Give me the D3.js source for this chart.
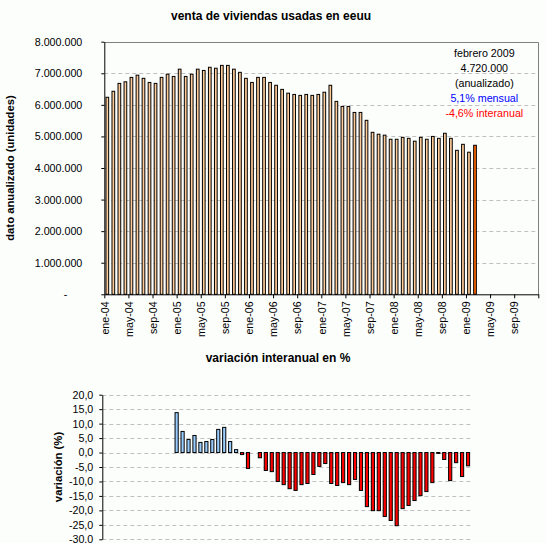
<!DOCTYPE html>
<html>
<head>
<meta charset="utf-8">
<script src="https://cdn.jsdelivr.net/npm/d3@7"></script>
<style>
body { margin: 0; background: #fcfefc; }
svg { display: block; font-family: Arial, "Liberation Sans", sans-serif; }
</style>
</head>
<body>
<svg id="chart" width="546" height="543"></svg>
<script>
// ventas anualizadas (miles de unidades), ene-04 .. feb-09
var ventas = [
    6240, 6430, 6680, 6730, 6870, 6940, 6840, 6710, 6680, 6870, 6970, 6900,
    7130, 6900, 6970, 7130, 7090, 7190, 7160, 7250, 7250, 7130, 7030, 6840,
    6710, 6870, 6870, 6710, 6620, 6490, 6370, 6330, 6300, 6330, 6300, 6330,
    6400, 6620, 6110, 5950, 5950, 5760, 5760, 5510, 5130, 5070, 5040, 4910,
    4910, 4970, 4940, 4850, 4970, 4910, 5000, 4940, 5100, 4940, 4560, 4750,
    4500, 4720
];

// variacion interanual en %, empieza en ene-05
var variacion = [
    null, null, null, null, null, null, null, null, null, null, null, null,
    13.8, 7.3, 4.5, 5.9, 3.5, 3.8, 4.5, 8.0, 8.7, 3.8, 1.0, -0.7,
    -5.5, 0.0, -1.8, -6.2, -6.6, -10.0, -11.1, -12.5, -13.1, -11.1, -10.7, -7.6,
    -4.8, -3.8, -10.7, -11.4, -10.4, -11.1, -9.3, -13.1, -18.7, -20.1, -20.1, -22.1,
    -23.5, -25.3, -19.4, -18.3, -16.6, -14.9, -13.5, -10.4, -0.3, -2.4, -9.7, -3.5,
    -8.3, -4.6
];

var meses = ["ene", "feb", "mar", "abr", "may", "jun", "jul", "ago", "sep", "oct", "nov", "dic"];
var anios = ["04", "05", "06", "07", "08", "09"];

var etiquetasX = ["ene-04", "may-04", "sep-04", "ene-05", "may-05", "sep-05", "ene-06", "may-06", "sep-06",
    "ene-07", "may-07", "sep-07", "ene-08", "may-08", "sep-08", "ene-09", "may-09", "sep-09"];

var ticksVentas = [0, 1000, 2000, 3000, 4000, 5000, 6000, 7000, 8000];
var ticksVariacion = [20, 15, 10, 5, 0, -5, -10, -15, -20, -25, -30];

var nota = ["febrero 2009", "4.720.000", "(anualizado)", "5,1% mensual", "-4,6% interanual"];
var notaColor = ["#000000", "#000000", "#000000", "#0000ff", "#ff0000"];

// categorias mensuales
var categorias = [];
anios.forEach(function (a) {
    meses.forEach(function (m) { categorias.push(m + "-" + a); });
});
categorias = categorias.slice(0, ventas.length);

var svg = d3.select("#chart");
var fuente = "10.7px";
var fuenteTitulo = "12px";
var fuenteEje = "11.3px";

// ---------- grafico de arriba ----------
var x1 = d3.scaleLinear().domain([0, 72]).range([104.3, 538.3]);
var y1 = d3.scaleLinear().domain([0, 8000]).range([294.3, 41.7]);

svg.append("text")
    .attr("x", 271)
    .attr("y", 19.5)
    .attr("text-anchor", "middle")
    .attr("font-size", fuenteTitulo)
    .attr("font-weight", "bold")
    .text("venta de viviendas usadas en eeuu");

// lineas de division
svg.append("g")
    .selectAll("line")
    .data(ticksVentas.filter(function (d) { return d > 0 && d < 8000; }))
    .enter().append("line")
    .attr("x1", x1(0)).attr("x2", x1(72))
    .attr("y1", function (d) { return Math.round(y1(d)) + 0.5; })
    .attr("y2", function (d) { return Math.round(y1(d)) + 0.5; })
    .attr("stroke", "#c0c0c0")
    .attr("stroke-dasharray", "4,3");

// marco gris arriba y derecha
svg.append("path")
    .attr("d", "M" + x1(0) + "," + (Math.round(y1(8000)) + 0.5) + "H" + (Math.round(x1(72)) + 0.5) + "V" + y1(0))
    .attr("fill", "none")
    .attr("stroke", "#808080");

svg.append("g")
    .selectAll("rect")
    .data(ventas)
    .enter().append("rect")
    .attr("x", function (d, i) { return x1(i + 0.5) - 1.35; })
    .attr("width", 2.7)
    .attr("y", function (d) { return y1(d); })
    .attr("height", function (d) { return y1(0) - y1(d); })
    .attr("fill", function (d, i) { return i === ventas.length - 1 ? "#ff6600" : "#ffcc99"; })
    .attr("stroke", "#000")
    .attr("stroke-width", 1);

var ejeY1 = svg.append("g")
    .attr("transform", "translate(" + x1(0) + ",0)")
    .call(d3.axisLeft(y1)
        .tickValues(ticksVentas)
        .tickSize(3)
        .tickSizeOuter(0)
        .tickPadding(19)
        .tickFormat(function (d) {
            return d === 0 ? "-" : d3.format(",")(d * 1000).replace(/,/g, ".");
        }));
ejeY1.selectAll("text").attr("font-size", fuente).attr("font-family", null).attr("fill", "#000");
ejeY1.selectAll(".tick").filter(function (d) { return d === 0; })
    .select("text").attr("x", -37);

var ejeX1 = svg.append("g")
    .attr("transform", "translate(0," + y1(0) + ")")
    .call(d3.axisBottom(x1)
        .tickValues(d3.range(0, 73, 4))
        .tickSize(4)
        .tickSizeOuter(0)
        .tickFormat(function (d, i) { return etiquetasX[i] || ""; }));
ejeX1.selectAll("text")
    .attr("font-size", fuente)
    .attr("font-family", null)
    .attr("fill", "#000")
    .attr("transform", "rotate(-90)")
    .attr("text-anchor", "end")
    .attr("x", -7)
    .attr("y", 0)
    .attr("dy", "0.35em");

svg.append("text")
    .attr("transform", "translate(14,168) rotate(-90)")
    .attr("text-anchor", "middle")
    .attr("font-size", fuenteEje)
    .attr("font-weight", "bold")
    .text("dato anualizado (unidades)");

svg.append("g")
    .selectAll("text")
    .data(nota)
    .enter().append("text")
    .attr("x", 484.3)
    .attr("y", function (d, i) { return 57.3 + i * 15; })
    .attr("text-anchor", "middle")
    .attr("font-size", fuente)
    .attr("fill", function (d, i) { return notaColor[i]; })
    .text(function (d) { return d; });

// ---------- grafico de abajo ----------
var x2 = d3.scaleBand().domain(categorias).range([102.3, 471]).paddingInner(0.3).paddingOuter(0.15);
var y2 = d3.scaleLinear().domain([-30, 20]).range([539.3, 394.7]);

svg.append("text")
    .attr("x", 278)
    .attr("y", 362)
    .attr("text-anchor", "middle")
    .attr("font-size", fuenteTitulo)
    .attr("font-weight", "bold")
    .text("variación interanual en %");

svg.append("g")
    .selectAll("line")
    .data(ticksVariacion)
    .enter().append("line")
    .attr("x1", 102.3).attr("x2", 471)
    .attr("y1", function (d) { return Math.round(y2(d)) + 0.5; })
    .attr("y2", function (d) { return Math.round(y2(d)) + 0.5; })
    .attr("stroke", "#c0c0c0")
    .attr("stroke-dasharray", "4,3");

svg.append("g")
    .selectAll("rect")
    .data(variacion.map(function (v, i) { return { c: categorias[i], v: v }; })
        .filter(function (d) { return d.v !== null && d.v !== 0; }))
    .enter().append("rect")
    .attr("x", function (d) { return x2(d.c) + 0.5; })
    .attr("width", x2.bandwidth() - 1)
    .attr("y", function (d) { return y2(Math.max(0, d.v)); })
    .attr("height", function (d) { return Math.abs(y2(d.v) - y2(0)); })
    .attr("fill", function (d) { return d.v > 0 ? "#99ccff" : "#ff0000"; })
    .attr("stroke", "#000")
    .attr("stroke-width", 1);

var ejeY2 = svg.append("g")
    .attr("transform", "translate(102.3,0)")
    .call(d3.axisLeft(y2)
        .tickValues(ticksVariacion)
        .tickSize(3)
        .tickSizeOuter(0)
        .tickPadding(6)
        .tickFormat(function (d) { return d3.format(".1f")(d).replace(".", ",").replace("−", "-"); }));
ejeY2.selectAll("text").attr("font-size", fuente).attr("font-family", null).attr("fill", "#000");

svg.append("text")
    .attr("transform", "translate(61.5,467) rotate(-90)")
    .attr("text-anchor", "middle")
    .attr("font-size", fuenteEje)
    .attr("font-weight", "bold")
    .text("variación (%)");
</script>
</body>
</html>
